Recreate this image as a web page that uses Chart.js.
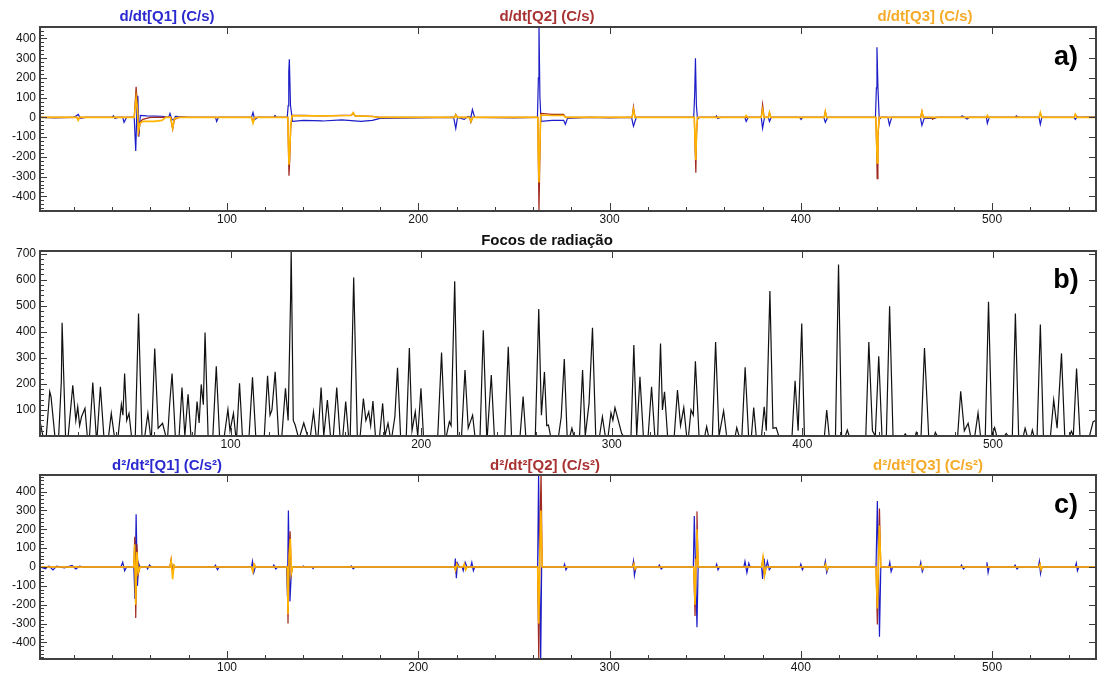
<!DOCTYPE html>
<html>
<head>
<meta charset="utf-8">
<script src="https://cdn.jsdelivr.net/npm/chart.js@4.4.1/dist/chart.umd.min.js"></script>
<style>
  html, body { margin: 0; padding: 0; background: #ffffff; }
  body { width: 1097px; height: 675px; position: relative; overflow: hidden; font-family: "Liberation Sans", Arial, sans-serif; }
  .pane { position: absolute; left: 0; width: 1097px; }
  .ttl { position: absolute; transform: translateX(-50%); font-weight: bold; font-size: 15px; line-height: 18px; white-space: nowrap; }
  .lbl { position: absolute; transform: translate(-50%, -50%); font-weight: bold; font-size: 27px; line-height: 30px; color: #000; }
</style>
</head>
<body>
<div class="pane" style="top:0;height:232px"><canvas id="cA" width="1097" height="232"></canvas></div>
<div class="pane" style="top:232px;height:222px"><canvas id="cB" width="1097" height="222"></canvas></div>
<div class="pane" style="top:454px;height:221px"><canvas id="cC" width="1097" height="221"></canvas></div>

<div class="ttl" style="left:167px;top:7px;color:#2a2ad0">d/dt[Q1] (C/s)</div>
<div class="ttl" style="left:547px;top:7px;color:#a83232">d/dt[Q2] (C/s)</div>
<div class="ttl" style="left:925px;top:7px;color:#f5aa28">d/dt[Q3] (C/s)</div>
<div class="ttl" style="left:547px;top:231px;color:#111">Focos de radiação</div>
<div class="ttl" style="left:167px;top:456px;color:#2a2ad0">d²/dt²[Q1] (C/s²)</div>
<div class="ttl" style="left:545px;top:456px;color:#a83232">d²/dt²[Q2] (C/s²)</div>
<div class="ttl" style="left:928px;top:456px;color:#f5aa28">d²/dt²[Q3] (C/s²)</div>
<div class="lbl" style="left:1066px;top:56px">a)</div>
<div class="lbl" style="left:1066px;top:279px">b)</div>
<div class="lbl" style="left:1066px;top:504px">c)</div>

<script>
// ---------- tick labels ----------
const xTickValues = [100, 200, 300, 400, 500];
const yTicksDeriv = [-400, -300, -200, -100, 0, 100, 200, 300, 400];
const yTicksFocos = [100, 200, 300, 400, 500, 600, 700];

// ---------- panel a) first derivatives  [x, value] ----------
const dQ1 = [[2.3,0],[10,-3],[20,0],[22.2,15],[23.5,-5],[26,0],[40,0],[40.6,8],[41.5,-5],[43,0],[45.5,0],[46.2,-25],[47.5,0],[51.5,0],[52.3,-170],[52.9,40],[53.4,110],[53.9,-98],[54.7,10],[58,8],[66,6],[69.5,0],[70.2,20],[71.1,-8],[72,-15],[73,5],[80,0],[94,0],[94.6,-20],[95.5,0],[112.8,0],[113.6,25],[114.5,-10],[116,0],[124.5,0],[125.1,10],[126,0],[131.5,0],[132,60],[132.3,230],[132.6,295],[133.2,60],[134.3,-20],[140,-15],[150,-18],[160,-12],[170,-20],[176,-15],[180,-5],[200,-3],[218.5,0],[219.6,-56],[220.5,0],[224,-10],[226,5],[227.5,0],[228.3,40],[229.5,0],[250,-3],[262.3,0],[262.8,200],[263.1,470],[263.6,100],[264.2,-20],[270,-15],[276,-15],[276.9,-35],[278,-5],[290,0],[300,-3],[311.5,0],[312.5,-45],[314,0],[344,0],[344.5,120],[344.9,300],[345.4,60],[346,-10],[347,0],[355.3,0],[355.9,8],[356.5,-5],[358,0],[370.7,0],[371.4,-20],[372.5,0],[379.3,0],[380,-55],[381,0],[383,0],[383.6,-20],[384.5,0],[399.4,0],[400.1,-10],[401,0],[412,0],[412.8,-25],[414,0],[439,0],[439.5,150],[439.8,355],[440.3,150],[441,-10],[442,0],[445.5,0],[446.3,-39],[447.5,0],[462.5,0],[463.3,-40],[464.5,-5],[470,-5],[471,0],[483.6,0],[484.3,8],[486.9,-8],[488,0],[497,0],[497.5,-30],[498.5,0],[512,0],[512.7,8],[513.5,0],[524.5,0],[525.2,-35],[526,0],[542.8,0],[543.5,-10],[544.5,5],[545.5,0],[554.3,3]];
const dQ2 = [[2.3,0],[21.5,0],[22.2,-8],[23,0],[51.5,0],[52.5,155],[53.2,60],[53.7,-95],[54.5,-25],[56,-10],[60,0],[70.5,0],[71.6,-60],[72.5,-10],[75,0],[112.8,0],[113.6,-20],[114.5,0],[131.8,0],[132.1,-150],[132.4,-295],[132.8,-220],[133.3,-60],[134,10],[140,10],[150,8],[165,12],[166,20],[167,8],[176,5],[180,0],[219,0],[219.6,15],[220.5,0],[226.8,0],[227.5,-25],[228.5,0],[262.5,0],[262.8,-250],[263.1,-480],[263.5,-250],[264,20],[270,15],[276,15],[277,0],[311.8,0],[312.5,54],[313.3,0],[344.3,0],[344.7,-150],[345.1,-280],[345.5,-80],[346,0],[379.3,0],[380,66],[380.8,0],[383,0],[383.6,25],[384.3,0],[412.2,0],[412.8,30],[413.5,0],[439.2,0],[439.6,-150],[439.9,-310],[440.3,-100],[441,0],[462.6,0],[463.3,30],[464,0],[468.2,0],[468.9,-10],[470,0],[524.5,0],[525.2,20],[526,0],[542.8,0],[543.5,15],[544.3,0],[554.3,0]];
const dQ3 = [[2.3,0],[21.5,0],[22.2,-15],[23,0],[51.5,0],[52.5,100],[53.2,40],[53.7,-70],[54.5,-30],[56,-20],[62,-20],[66,-15],[68,0],[70.5,0],[71.6,-55],[72.5,-5],[75,0],[112.8,0],[113.6,-30],[114.5,0],[131.8,0],[132.1,-120],[132.4,-240],[132.8,-180],[133.3,-40],[134,8],[150,8],[165,10],[166,25],[167,8],[176,5],[180,0],[219,0],[219.6,12],[220.5,0],[226.8,0],[227.5,-20],[228.5,0],[262.5,0],[262.8,-200],[263.1,-330],[263.5,-180],[264,12],[270,10],[276,10],[277,0],[311.8,0],[312.5,40],[313.3,0],[344.3,0],[344.7,-120],[345.1,-215],[345.5,-60],[346,0],[370.7,0],[371.4,10],[372.2,0],[379.3,0],[380,40],[380.8,0],[383,0],[383.6,25],[384.3,0],[412.2,0],[412.8,30],[413.5,0],[439.2,0],[439.6,-120],[439.9,-230],[440.3,-80],[441,0],[462.6,0],[463.3,30],[464,0],[497,0],[497.5,10],[498.2,0],[524.5,0],[525.2,25],[526,0],[542.8,0],[543.5,15],[544.3,0],[554.3,0]];

// ---------- panel b) Focos de radiação  [x, count] ----------
const focos = [[0,58],[1.5,0],[3.3,0],[5.1,170],[5.8,150],[7.8,0],[9.8,0],[11.2,210],[11.6,435],[13.4,0],[14.8,0],[17.2,195],[18.8,60],[19.8,112],[20.8,40],[21.8,74],[23.6,106],[24.8,0],[26,0],[27.7,205],[29.5,0],[30,0],[31.7,189],[33.5,0],[36,0],[37.4,87],[39,0],[41,0],[42.7,121],[43.5,80],[44.4,240],[45.5,60],[46.7,87],[48,0],[50,0],[51.4,387],[51.7,470],[53.5,0],[55,0],[56.6,87],[58,0],[58.5,0],[60.2,336],[62,30],[64.3,49],[66,0],[67,0],[68,119],[69.3,240],[71,0],[73,0],[74.5,186],[76,0],[77.7,160],[79.2,0],[81.2,0],[82.4,132],[83.5,50],[84.6,198],[85.7,120],[86.6,397],[88.2,0],[90.7,0],[92.5,268],[94.2,0],[96.7,0],[98.6,102],[99.7,20],[101.5,87],[102.7,0],[103.2,0],[104.7,202],[106.2,0],[109.7,0],[111.5,225],[113.2,0],[117.7,0],[119.4,231],[120.7,80],[121.7,100],[123.4,246],[125.2,0],[126.9,0],[128.8,183],[130.2,60],[131.5,534],[131.8,713],[132.9,60],[133.9,42],[135.4,0],[136.4,0],[138.4,50],[140.4,0],[141.9,0],[143.5,93],[144.9,0],[145.9,0],[147.5,186],[148.9,0],[150.8,138],[152.4,0],[153.9,0],[155.7,186],[157.4,0],[158.9,0],[160.4,132],[161.9,0],[162.8,0],[164.6,608],[166.5,0],[168,0],[169.7,144],[171,60],[172.5,93],[173.5,40],[174.7,134],[176,0],[178.2,0],[179.8,125],[181,0],[182.6,49],[183.7,0],[184.7,0],[186.2,74],[187.6,262],[189.2,0],[192.2,0],[193.8,338],[195.2,20],[196.9,93],[198.2,0],[199.9,183],[201.2,0],[208.7,0],[210.7,320],[212.5,0],[213.2,0],[214.8,55],[215.7,40],[217.6,594],[219.2,0],[221.2,0],[223,253],[224.7,30],[227,80],[228.2,0],[230.9,0],[232.6,406],[234.4,0],[234.7,0],[236.8,234],[238.4,0],[243.9,0],[245.7,342],[247.4,0],[251.9,0],[253.5,151],[254.9,0],[259.9,0],[261.7,487],[263.1,80],[264.7,246],[265.9,40],[266.8,42],[267.9,0],[272.1,0],[273.5,74],[275.1,295],[276.6,0],[278.1,0],[279.1,30],[280.1,0],[283.1,0],[284.7,253],[286.1,0],[288.1,125],[289.9,415],[291.6,0],[293.6,0],[295.1,74],[296.6,0],[298.1,0],[299.6,89],[300.6,60],[301.7,109],[305.2,10],[306.1,0],[310.1,0],[311.6,349],[313.1,0],[314.8,227],[316.6,0],[319.1,0],[320.9,189],[322.6,0],[324.1,0],[325.6,355],[326.6,100],[327.7,170],[329.3,0],[332.8,0],[334.5,176],[336.1,40],[337.8,109],[339.3,0],[340.3,0],[341.6,100],[342.8,80],[343.9,287],[345.8,0],[348.8,0],[349.8,36],[350.8,0],[352.8,0],[354.5,361],[356.3,0],[358.7,96],[360.3,0],[364.8,0],[365.6,32],[366.8,0],[368.3,0],[370,264],[371.8,0],[373.3,0],[374.5,109],[375.8,0],[378.6,0],[380,112],[381.1,20],[383,556],[384.6,30],[386.3,32],[387.6,0],[394.6,0],[396.2,212],[397.8,20],[399.7,432],[401.1,0],[411.6,0],[412.8,100],[414.1,0],[417.4,0],[419,658],[420.6,0],[422.6,0],[423.6,23],[424.6,0],[433.3,0],[434.9,361],[436.8,20],[438.3,0],[440.1,306],[441.8,0],[444.1,0],[445.8,498],[447.6,0],[453.3,0],[454,8],[454.8,0],[459.3,0],[459.8,14],[460.8,0],[462.3,0],[464.1,338],[466.3,0],[469.3,0],[469.8,14],[470.8,0],[481.5,0],[483.1,172],[485,20],[487,49],[488.3,0],[490.5,0],[492.2,89],[493.5,0],[496,0],[497.7,515],[499.5,0],[500.9,32],[502,0],[506,0],[507,10],[508,0],[510.2,0],[511.8,470],[513.5,0],[516,0],[516.9,30],[518,0],[520,0],[520.7,23],[521.5,0],[523.2,0],[524.9,428],[526.5,0],[530.2,0],[531.9,138],[533.7,30],[536,317],[537.7,0],[540.2,0],[541.2,19],[542.2,0],[543.9,259],[545.7,0],[550.7,0],[552.6,55],[554.1,60]];

// ---------- panel c) second derivatives  [x, value] ----------
const d2Q1 = [[2.3,0],[5,-10],[7,5],[9,-15],[11,5],[15,-5],[19,8],[21,-10],[23,5],[25,0],[44.5,0],[45.5,25],[46.5,-20],[47.5,0],[51.3,0],[51.9,-170],[52.5,280],[53.2,-100],[53.8,20],[54.5,0],[58,0],[58.5,-10],[59.5,10],[60.5,0],[70.2,0],[70.8,30],[71.6,-20],[72.3,10],[73,0],[93.3,0],[94,10],[95,-15],[96,0],[112.8,0],[113.3,30],[114,-30],[114.8,0],[124,0],[124.5,10],[125.5,-10],[126.5,0],[131.2,0],[131.6,-155],[132.1,300],[132.9,-183],[133.8,0],[139.5,0],[140,5],[140.5,0],[144.5,0],[145,-8],[145.5,0],[164.5,0],[165,5],[166,-10],[167,0],[219,0],[219.4,45],[219.9,-60],[220.5,20],[221.5,0],[223,0],[223.5,-20],[224.5,25],[225.5,0],[227.4,0],[228,25],[228.8,-20],[229.5,0],[262.4,0],[262.9,500],[263.4,0],[264,-500],[264.5,0],[276,0],[276.5,15],[277.2,-15],[278,0],[312,0],[312.5,30],[313,-45],[313.8,0],[325.5,0],[326,10],[327,-10],[328,0],[343.8,0],[344.3,270],[345,-30],[345.7,-320],[346.3,0],[355.5,0],[356,15],[356.7,-15],[357.5,0],[370.2,0],[370.8,30],[371.8,-30],[372.8,20],[373.5,0],[379.5,0],[380,-64],[380.8,45],[381.5,-20],[382.5,30],[383.5,-15],[384.5,0],[399.5,0],[400,15],[400.8,-15],[401.5,0],[412.2,0],[412.8,30],[413.5,-30],[414.5,0],[439.3,0],[440,350],[440.6,0],[441.1,-370],[441.8,0],[446,0],[446.5,25],[447.2,-25],[448,0],[462.2,0],[462.7,25],[463.5,-25],[464.4,0],[483.5,0],[484,10],[485,-10],[486,0],[496.8,0],[497.3,25],[497.9,-30],[498.5,0],[511.5,0],[512,10],[513,-10],[514,0],[524.2,0],[524.7,30],[525.3,-35],[526,0],[543.5,0],[544,20],[544.6,-20],[545.3,0],[554.3,0]];
const d2Q2 = [[2.3,0],[51.3,0],[51.8,160],[52.3,-270],[52.9,120],[53.6,-40],[54.5,0],[70.2,0],[70.8,40],[71.6,-30],[72.3,0],[112.8,0],[113.5,-20],[114.2,15],[115,0],[131.5,0],[131.9,-300],[132.5,100],[133,190],[133.6,-40],[134.3,0],[219,0],[219.5,-20],[220,20],[221,0],[262.4,0],[263,-500],[263.6,200],[264.2,500],[264.8,0],[312,0],[312.7,20],[313.3,-15],[314,0],[344,0],[344.7,-260],[345.2,50],[345.7,295],[346.3,0],[379.5,0],[380.2,45],[381,-40],[381.8,0],[439.3,0],[440,-305],[440.6,50],[441.1,310],[441.8,0],[524.4,0],[525,15],[525.6,-15],[526.2,0],[554.3,0]];
const d2Q3 = [[2.3,0],[51.3,0],[51.7,120],[52.3,-200],[52.9,80],[53.6,-30],[54.5,0],[70.2,0],[70.8,35],[71.6,-64],[72.3,10],[73,0],[112.8,0],[113.5,-25],[114.2,15],[115,0],[131.5,0],[131.9,-250],[132.5,60],[133.1,150],[133.7,-30],[134.3,0],[219,0],[219.5,-15],[220.1,15],[221,0],[223.3,0],[224,15],[224.8,-15],[225.5,0],[262.4,0],[263,-300],[263.6,100],[264.1,300],[264.8,0],[312,0],[312.7,15],[313.3,-10],[314,0],[344,0],[344.7,-200],[345.2,40],[345.7,200],[346.3,0],[379.5,0],[380.2,50],[381,-45],[381.8,0],[412.3,0],[413,15],[413.7,-15],[414.3,0],[439.3,0],[440,-220],[440.6,40],[441.1,220],[441.8,0],[462.3,0],[463,10],[463.7,-10],[464.3,0],[524.4,0],[525,15],[525.6,-15],[526.2,0],[554.3,0]];

// ---------- colours ----------
const C_Q1 = '#1c1cc8', C_Q2 = '#a0281e', C_Q3 = '#ffb400', C_FOCOS = '#111111';

// ---------- frame + inward tick marks ----------
const framePlugin = {
  id: 'frame',
  afterDatasetsDraw(chart) {
    const { ctx, chartArea: a, scales: { x, y } } = chart;
    ctx.save();
    ctx.strokeStyle = '#3a3a3a';
    ctx.lineWidth = 1;
    ctx.beginPath();
    for (let v = Math.ceil(x.min / 20) * 20; v <= x.max; v += 20) {
      const px = Math.round(x.getPixelForValue(v)) + 0.5;
      const major = v % 100 === 0;
      ctx.moveTo(px, a.bottom); ctx.lineTo(px, a.bottom - (major ? 8 : 4));
      if (major) { ctx.moveTo(px, a.top); ctx.lineTo(px, a.top + 7); }
    }
    for (let v = Math.ceil(y.min / 20) * 20; v <= y.max; v += 20) {
      const py = Math.round(y.getPixelForValue(v)) + 0.5;
      const major = v % 100 === 0;
      ctx.moveTo(a.left, py); ctx.lineTo(a.left + (major ? 7 : 4), py);
      if (major) { ctx.moveTo(a.right, py); ctx.lineTo(a.right - 7, py); }
    }
    ctx.stroke();
    ctx.lineWidth = 2;
    ctx.strokeStyle = '#404040';
    ctx.strokeRect(a.left, a.top, a.right - a.left, a.bottom - a.top);
    ctx.restore();
  }
};

function makeChart(id, datasets, cfg) {
  return new Chart(document.getElementById(id), {
    type: 'line',
    data: { datasets },
    options: {
      responsive: false,
      animation: false,
      devicePixelRatio: 1,
      layout: { padding: { top: cfg.padTop, right: 1, left: 0, bottom: 0 } },
      elements: { point: { radius: 0 }, line: { tension: 0, borderWidth: 1 } },
      plugins: { legend: { display: false }, tooltip: { enabled: false } },
      scales: {
        x: {
          type: 'linear', min: cfg.xmin, max: cfg.xmax,
          grid: { display: false, drawTicks: false }, border: { display: false },
          afterBuildTicks: s => { s.ticks = xTickValues.map(v => ({ value: v })); },
          afterFit: s => { s.height = cfg.xh; },
          ticks: { padding: 1, color: '#151515', font: { family: 'Liberation Sans, Arial', size: 12 }, maxRotation: 0, autoSkip: false }
        },
        y: {
          type: 'linear', min: cfg.ymin, max: cfg.ymax,
          grid: { display: false, drawTicks: false }, border: { display: false },
          afterBuildTicks: s => { s.ticks = cfg.yTicks.map(v => ({ value: v })); },
          afterFit: s => { s.width = 40; },
          ticks: { padding: 4, color: '#151515', font: { family: 'Liberation Sans, Arial', size: 12 }, autoSkip: false }
        }
      }
    },
    plugins: [framePlugin]
  });
}

const line = (data, color, order, w) => ({ data, borderColor: color, borderWidth: w || 1, order, fill: false, pointRadius: 0, clip: 0 });

makeChart('cA', [
  line(dQ3, C_Q3, 0, 1.6), line(dQ2, C_Q2, 1, 1.2), line(dQ1, C_Q1, 2, 1.2)
], { padTop: 27, xh: 21, xmin: 2.25, xmax: 554.3, ymin: -474, ymax: 458, yTicks: yTicksDeriv });

makeChart('cB', [
  line(focos, C_FOCOS, 0, 1.2)
], { padTop: 19, xh: 18, xmin: 0, xmax: 554.1, ymin: 0, ymax: 710, yTicks: yTicksFocos });

makeChart('cC', [
  line(d2Q3, C_Q3, 0, 1.6), line(d2Q2, C_Q2, 1, 1.2), line(d2Q1, C_Q1, 2, 1.2)
], { padTop: 21, xh: 16, xmin: 2.25, xmax: 554.3, ymin: -488, ymax: 488, yTicks: yTicksDeriv });
</script>
</body>
</html>
